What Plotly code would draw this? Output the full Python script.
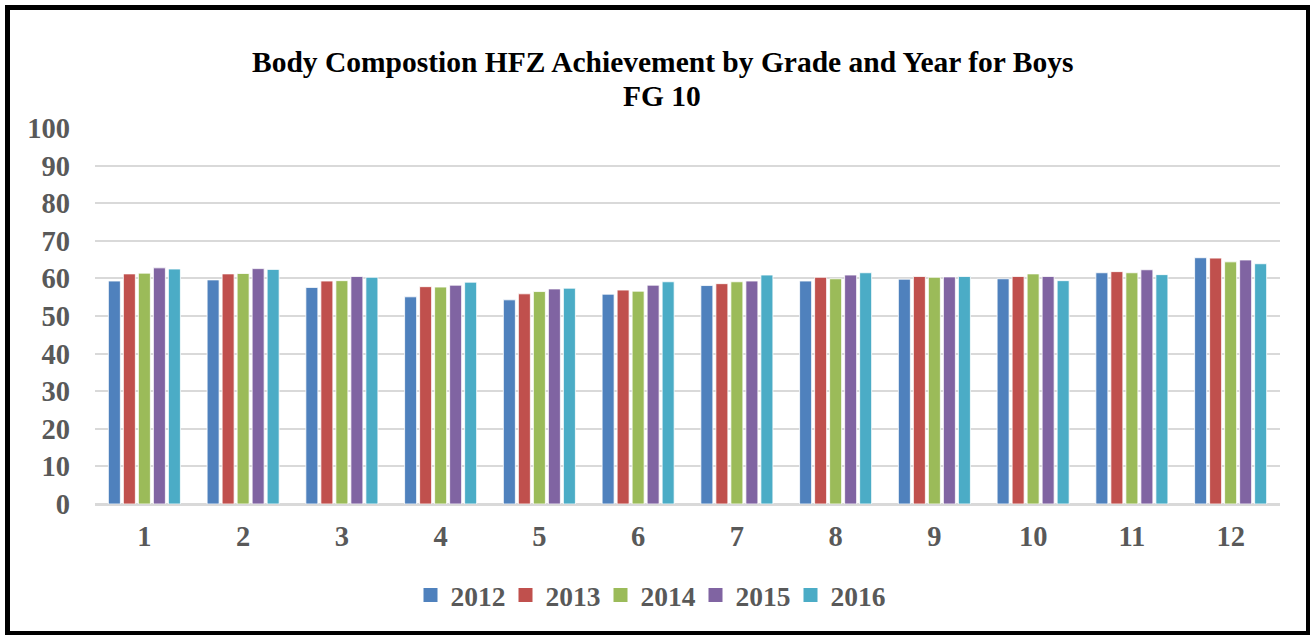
import plotly.graph_objects as go

grades = ["1", "2", "3", "4", "5", "6", "7", "8", "9", "10", "11", "12"]
years = ["2012", "2013", "2014", "2015", "2016"]
v2012 = [59.3, 59.6, 57.6, 55.1, 54.3, 55.8, 58.1, 59.3, 59.8, 59.9, 61.5, 65.5]
v2013 = [61.2, 61.2, 59.3, 57.8, 55.9, 56.9, 58.6, 60.3, 60.5, 60.5, 61.8, 65.4]
v2014 = [61.4, 61.3, 59.4, 57.7, 56.5, 56.6, 59.1, 59.9, 60.3, 61.2, 61.5, 64.4]
v2015 = [62.8, 62.6, 60.5, 58.2, 57.2, 58.2, 59.3, 60.9, 60.4, 60.5, 62.3, 64.9]
v2016 = [62.5, 62.4, 60.3, 59.0, 57.4, 59.1, 60.9, 61.5, 60.5, 59.4, 61.0, 63.9]
series = [v2012, v2013, v2014, v2015, v2016]
colors = ["#4F81BD", "#C0504D", "#9BBB59", "#8064A2", "#4BACC6"]
title_lines = ["Body Compostion HFZ Achievement by Grade and Year for Boys", "FG 10"]

FONT = "Liberation Serif, Times New Roman, serif"
W, H = 1310, 635
L, R, T, B = 95, 1280, 128, 504  # plot area in pixels
PW, PH = R - L, B - T


def px_x(x):
    return (x - L) / PW


def px_y(y):
    return (B - y) / PH


fig = go.Figure()
for name, vals, c in zip(years, series, colors):
    fig.add_trace(go.Bar(x=grades, y=vals, name=name, showlegend=False, legendgroup=name,
                         marker=dict(color=c, line=dict(color="white", width=0.8))))
# legend entries with larger square symbols
for name, c in zip(years, colors):
    fig.add_trace(go.Scatter(x=[None], y=[None], mode="markers", name=name, legendgroup=name,
                             marker=dict(symbol="square", size=14, color=c),
                             showlegend=True))

fig.update_layout(
    width=W, height=H,
    paper_bgcolor="white", plot_bgcolor="white",
    margin=dict(l=L, r=W - R, t=T, b=H - B, pad=0),
    barmode="group", bargap=0.24, bargroupgap=0.2,
    font=dict(family=FONT),
    legend=dict(orientation="h", x=px_x(648), xanchor="center",
                y=px_y(595), yanchor="middle",
                font=dict(family=FONT, size=27.5, color="#595959", weight="bold"),
                itemwidth=30, entrywidth=50, traceorder="normal"),
    showlegend=True,
)
for i, (txt, yc) in enumerate(zip(title_lines, [62, 96])):
    fig.add_annotation(text="<b>" + txt + "</b>", xref="paper", yref="paper",
                       x=px_x(662), y=px_y(yc), xanchor="center", yanchor="middle",
                       showarrow=False, font=dict(family=FONT, size=29.5, color="black"))

fig.update_yaxes(range=[0, 100], dtick=10, showgrid=True, gridcolor="#D9D9D9", gridwidth=1.5,
                 zeroline=True, zerolinecolor="#D9D9D9", zerolinewidth=1.5,
                 tickfont=dict(family=FONT, size=28.5, color="#595959", weight="bold"),
                 ticks="", ticklabelstandoff=24)
fig.update_xaxes(range=[-0.5, 11.5], showline=True, linecolor="#D9D9D9", linewidth=1.5,
                 tickfont=dict(family=FONT, size=28.5, color="#595959", weight="bold"),
                 ticks="", ticklabelstandoff=6)

fig.add_shape(type="rect", xref="paper", yref="paper",
              x0=px_x(7.5), x1=px_x(1308.5),
              y0=px_y(633.5), y1=px_y(7.5),
              line=dict(color="black", width=5), fillcolor="rgba(0,0,0,0)", layer="above")

fig.write_html("out.html", config={"displayModeBar": False},
               post_script="document.body.style.margin='0';")
